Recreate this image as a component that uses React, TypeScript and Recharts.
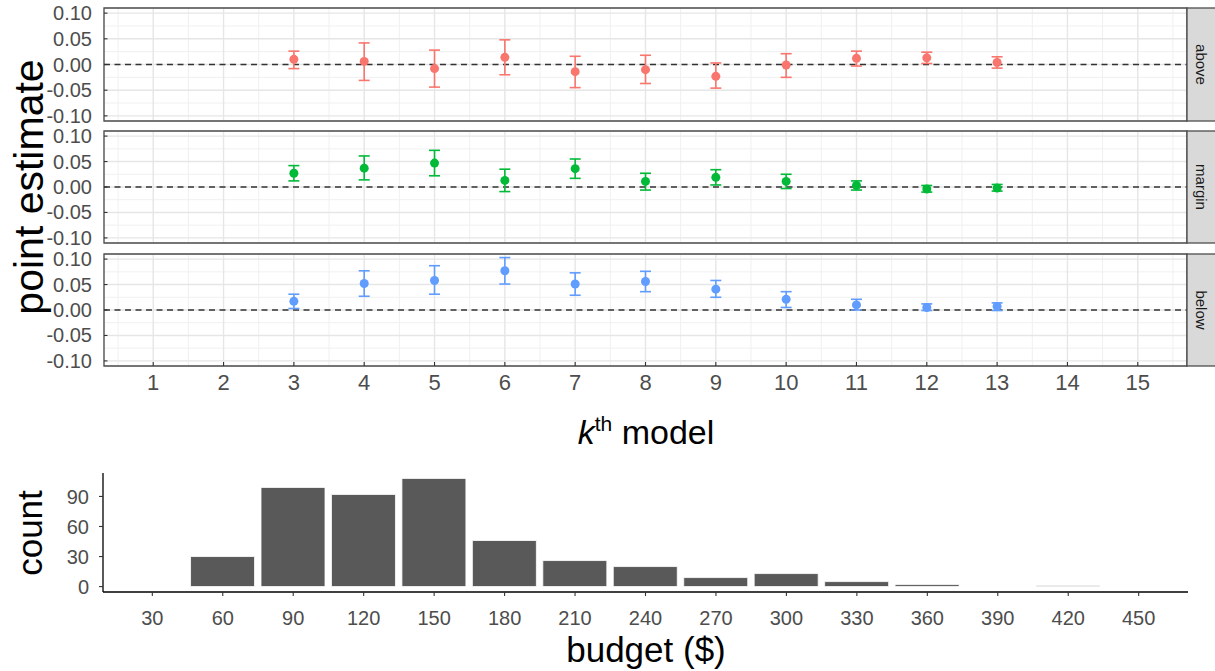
import {
  Bar,
  BarChart,
  CartesianGrid,
  ErrorBar,
  ReferenceArea,
  ReferenceLine,
  Scatter,
  ScatterChart,
  XAxis,
  YAxis,
} from "recharts";

const FONT = '"Liberation Sans", Arial, Helvetica, sans-serif';

// k-th model estimates, one array per facet
const kValues = [3, 4, 5, 6, 7, 8, 9, 10, 11, 12, 13];
const kTicks = [1, 2, 3, 4, 5, 6, 7, 8, 9, 10, 11, 12, 13, 14, 15];
const kMinor = [0.5, 1.5, 2.5, 3.5, 4.5, 5.5, 6.5, 7.5, 8.5, 9.5, 10.5, 11.5, 12.5, 13.5, 14.5, 15.5];
const estTicks = [-0.1, -0.05, 0, 0.05, 0.1];
const estMinor = [-0.075, -0.025, 0.025, 0.075];

const aboveEst = [0.01, 0.006, -0.008, 0.014, -0.014, -0.01, -0.023, -0.001, 0.012, 0.013, 0.004];
const aboveLow = [-0.008, -0.031, -0.044, -0.02, -0.045, -0.037, -0.046, -0.025, -0.003, 0.002, -0.007];
const aboveHigh = [0.026, 0.042, 0.028, 0.048, 0.016, 0.018, 0.003, 0.021, 0.026, 0.024, 0.015];

const marginEst = [0.027, 0.037, 0.047, 0.013, 0.036, 0.011, 0.019, 0.011, 0.003, -0.004, -0.002];
const marginLow = [0.012, 0.014, 0.022, -0.009, 0.017, -0.006, 0.004, -0.003, -0.006, -0.01, -0.008];
const marginHigh = [0.042, 0.061, 0.072, 0.035, 0.055, 0.027, 0.034, 0.025, 0.012, 0.003, 0.005];

const belowEst = [0.017, 0.052, 0.058, 0.077, 0.051, 0.056, 0.041, 0.021, 0.01, 0.005, 0.007];
const belowLow = [0.003, 0.027, 0.031, 0.051, 0.029, 0.036, 0.025, 0.005, 0.0, -0.001, -0.001];
const belowHigh = [0.031, 0.077, 0.087, 0.103, 0.073, 0.076, 0.058, 0.036, 0.021, 0.012, 0.014];

// budget histogram
const budgets = [30, 60, 90, 120, 150, 180, 210, 240, 270, 300, 330, 360, 390, 420, 450];
const counts = [0, 30, 99, 92, 108, 46, 26, 20, 9, 13, 5, 2, 0, 1, 0];
const countTicks = [0, 30, 60, 90];

const facets = [
  { name: "above", color: "#F8766D", est: aboveEst, lo: aboveLow, hi: aboveHigh, top: 8, h: 113 },
  { name: "margin", color: "#00BA38", est: marginEst, lo: marginLow, hi: marginHigh, top: 131, h: 112 },
  { name: "below", color: "#619CFF", est: belowEst, lo: belowLow, hi: belowHigh, top: 254, h: 112 },
];

const PLOT_LEFT = 104;
const PLOT_RIGHT = 1187;
const PAD = 12;
const Y_GAP = 12;
const X_GAP = 8;

const EstTick = (props: any) => {
  const { x, y, payload } = props;
  return (
    <g>
      <line x1={x + Y_GAP} x2={x + Y_GAP + 3.5} y1={y} y2={y} stroke="#333" strokeWidth={1.1} />
      <text x={x} y={y} dy="0.35em" textAnchor="end" fontSize={20} fill="#4d4d4d" fontFamily={FONT}>
        {payload.value.toFixed(2)}
      </text>
    </g>
  );
};

const KTick = (props: any) => {
  const { x, y, payload } = props;
  return (
    <g>
      <line x1={x} x2={x} y1={y - X_GAP} y2={y - X_GAP - 4} stroke="#333" strokeWidth={1.1} />
      <text x={x} y={y} dy="0.71em" textAnchor="middle" fontSize={22} fill="#4d4d4d" fontFamily={FONT}>
        {payload.value}
      </text>
    </g>
  );
};

function FacetPanel({ facet, last }: { facet: (typeof facets)[number]; last: boolean }) {
  const rows = kValues.map((k, i) => ({
    k,
    est: facet.est[i],
    err: [facet.est[i] - facet.lo[i], facet.hi[i] - facet.est[i]],
  }));
  const xh = last ? 44 : 0;
  return (
    <div style={{ position: "absolute", left: 0, top: facet.top - PAD }}>
      <ScatterChart
        width={1215}
        height={facet.h + PAD + (last ? xh : PAD)}
        margin={{ top: PAD, right: 1215 - PLOT_RIGHT, bottom: last ? 0 : PAD, left: 0 }}
      >
        <CartesianGrid
          stroke="#f0f0f0"
          strokeWidth={1}
          horizontalValues={estMinor}
          verticalValues={kMinor}
        />
        <CartesianGrid stroke="#e6e6e6" strokeWidth={1.4} />
        <XAxis
          type="number"
          dataKey="k"
          domain={[0.3, 15.7]}
          ticks={kTicks}
          allowDataOverflow
          hide={!last}
          height={xh}
          tickSize={0}
          tickMargin={X_GAP}
          axisLine={false}
          tickLine={false}
          tick={<KTick />}
          interval={0}
        />
        <YAxis
          type="number"
          dataKey="est"
          domain={[-0.11, 0.11]}
          ticks={estTicks}
          allowDataOverflow
          width={PLOT_LEFT}
          tickSize={0}
          tickMargin={Y_GAP}
          axisLine={false}
          tickLine={false}
          tick={<EstTick />}
          interval={0}
        />
        <ReferenceLine y={0} stroke="#333" strokeWidth={1.5} strokeDasharray="6 4.5" />
        <ReferenceArea x1={0.3} x2={15.7} y1={-0.11} y2={0.11} fill="none" stroke="#4d4d4d" strokeWidth={1.3} />
        <Scatter
          data={rows}
          fill={facet.color}
          isAnimationActive={false}
          shape={(p: any) => <circle cx={p.cx} cy={p.cy} r={4.5} fill={facet.color} />}
        >
          <ErrorBar dataKey="err" direction="y" width={5.5} stroke={facet.color} strokeWidth={1.6} />
        </Scatter>
      </ScatterChart>
    </div>
  );
}

function Strip({ facet }: { facet: (typeof facets)[number] }) {
  const cy = facet.top + facet.h / 2;
  return (
    <g>
      <rect x={PLOT_RIGHT} y={facet.top} width={40} height={facet.h} fill="#d9d9d9" stroke="#4d4d4d" strokeWidth={1.3} />
      <text
        transform={`translate(1201,${cy}) rotate(90)`}
        textAnchor="middle"
        dy="0.35em"
        fontSize={15}
        fill="#1a1a1a"
        fontFamily={FONT}
      >
        {facet.name}
      </text>
    </g>
  );
}

function BudgetHistogram() {
  const rows = budgets.map((b, i) => ({ budget: b, count: counts[i] }));
  return (
    <div style={{ position: "absolute", left: 0, top: 463 }}>
      <BarChart width={1215} height={169} data={rows} margin={{ top: 10, right: 27, bottom: 0, left: 0 }}>
        <XAxis
          type="number"
          dataKey="budget"
          domain={[9, 471]}
          ticks={budgets}
          interval={0}
          allowDataOverflow
          height={40}
          tickSize={4}
          tickMargin={15}
          axisLine={{ stroke: "#000", strokeWidth: 1.3 }}
          tickLine={{ stroke: "#333", strokeWidth: 1.1 }}
          tick={{ fontSize: 20, fill: "#4d4d4d", fontFamily: FONT }}
        />
        <YAxis
          type="number"
          domain={[-5.4, 113.4]}
          ticks={countTicks}
          interval={0}
          allowDataOverflow
          width={103}
          tickSize={4}
          tickMargin={10}
          axisLine={{ stroke: "#000", strokeWidth: 1.3 }}
          tickLine={{ stroke: "#333", strokeWidth: 1.1 }}
          tick={{ fontSize: 20, fill: "#4d4d4d", fontFamily: FONT }}
        />
        <Bar dataKey="count" fill="#595959" stroke="#ffffff" strokeWidth={0.8} barSize={64} isAnimationActive={false} />
      </BarChart>
    </div>
  );
}

export default function App() {
  return (
    <div
      style={{
        position: "absolute",
        left: 0,
        top: 0,
        width: 1215,
        height: 671,
        background: "#fff",
        overflow: "hidden",
        fontFamily: FONT,
      }}
    >
      {facets.map((f, i) => (
        <FacetPanel key={f.name} facet={f} last={i === facets.length - 1} />
      ))}
      <BudgetHistogram />
      <svg width={1215} height={671} style={{ position: "absolute", left: 0, top: 0, pointerEvents: "none" }}>
        {facets.map((f) => (
          <Strip key={f.name} facet={f} />
        ))}
        <text
          transform="translate(29,187) rotate(-90)"
          textAnchor="middle"
          dy="0.35em"
          fontSize={41}
          fill="#000"
          fontFamily={FONT}
        >
          point estimate
        </text>
        <text x={646} y={444} textAnchor="middle" fontSize={34} fill="#000" fontFamily={FONT}>
          <tspan fontStyle="italic">k</tspan>
          <tspan dy={-13} fontSize={21}>th</tspan>
          <tspan dy={13}> model</tspan>
        </text>
        <text
          transform="translate(30,533) rotate(-90)"
          textAnchor="middle"
          dy="0.35em"
          fontSize={35}
          fill="#000"
          fontFamily={FONT}
        >
          count
        </text>
        <text x={646} y={662} textAnchor="middle" fontSize={35} fill="#000" fontFamily={FONT}>
          budget ($)
        </text>
      </svg>
    </div>
  );
}
